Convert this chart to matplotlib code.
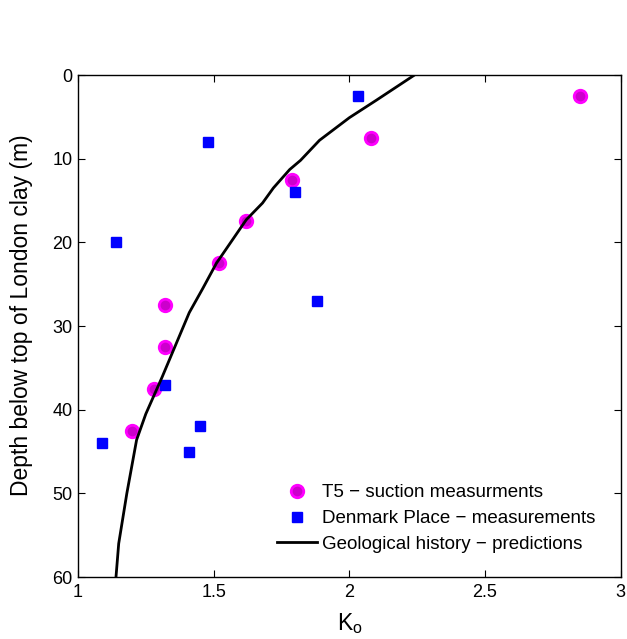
import matplotlib
matplotlib.use("Agg")
import matplotlib.pyplot as plt

plt.rcParams['font.family'] = ['Liberation Sans', 'DejaVu Sans']

# T5 suction measurements
t5_k0 = [2.85, 2.08, 1.79, 1.62, 1.52, 1.32, 1.32, 1.28, 1.20]
t5_depth = [2.5, 7.5, 12.5, 17.5, 22.5, 27.5, 32.5, 37.5, 42.5]

# Denmark Place measurements
dp_k0 = [2.03, 1.48, 1.80, 1.14, 1.88, 1.32, 1.45, 1.41, 1.09]
dp_depth = [2.5, 8.0, 14.0, 20.0, 27.0, 37.0, 42.0, 45.0, 44.0]

# Geological history predictions
geo_k0 = [2.24, 2.10, 2.00, 1.89, 1.82, 1.78, 1.72, 1.68, 1.62, 1.51, 1.46, 1.41, 1.31, 1.25, 1.216, 1.18, 1.15, 1.14]
geo_depth = [0.0, 3.0, 5.1, 7.8, 10.2, 11.3, 13.5, 15.3, 17.3, 22.5, 25.5, 28.4, 36.1, 40.5, 43.6, 50.0, 56.0, 60.0]

fig = plt.figure(figsize=(6.27, 6.39), dpi=100)
ax = fig.add_axes([0.1244, 0.097, 0.8656, 0.7856])

ax.plot(t5_k0, t5_depth, 'o', color='#cc00cc', markeredgecolor='#ff00ff',
        markeredgewidth=2, markersize=9, linestyle='none',
        label='T5 \u2212 suction measurments')
ax.plot(dp_k0, dp_depth, 's', color='#0000ff', markersize=7, linestyle='none',
        label='Denmark Place \u2212 measurements')
ax.plot(geo_k0, geo_depth, '-', color='black', linewidth=2,
        label='Geological history \u2212 predictions')

ax.set_xlim(1, 3)
ax.set_ylim(60, 0)
ax.set_xticks([1, 1.5, 2, 2.5, 3])
ax.set_xticklabels(['1', '1.5', '2', '2.5', '3'])
ax.set_yticks([0, 10, 20, 30, 40, 50, 60])
ax.tick_params(direction='in', top=True, right=True, labelsize=13, length=5)
ax.tick_params(axis='x', pad=5)
ax.tick_params(axis='y', pad=4)
for s in ax.spines.values():
    s.set_linewidth(1)

ax.set_xlabel('K$_\\mathregular{o}$', fontsize=16.5, labelpad=7)
ax.set_ylabel('Depth below top of London clay (m)', fontsize=16.5)
ax.yaxis.set_label_coords(-0.083, 0.521)

ax.legend(loc='lower right', frameon=False, fontsize=13.5, handlelength=2.1,
          handletextpad=0.3, labelspacing=0.46, borderaxespad=0.0,
          bbox_to_anchor=(0.968, 0.033))

fig.savefig('out.png', dpi=100)
